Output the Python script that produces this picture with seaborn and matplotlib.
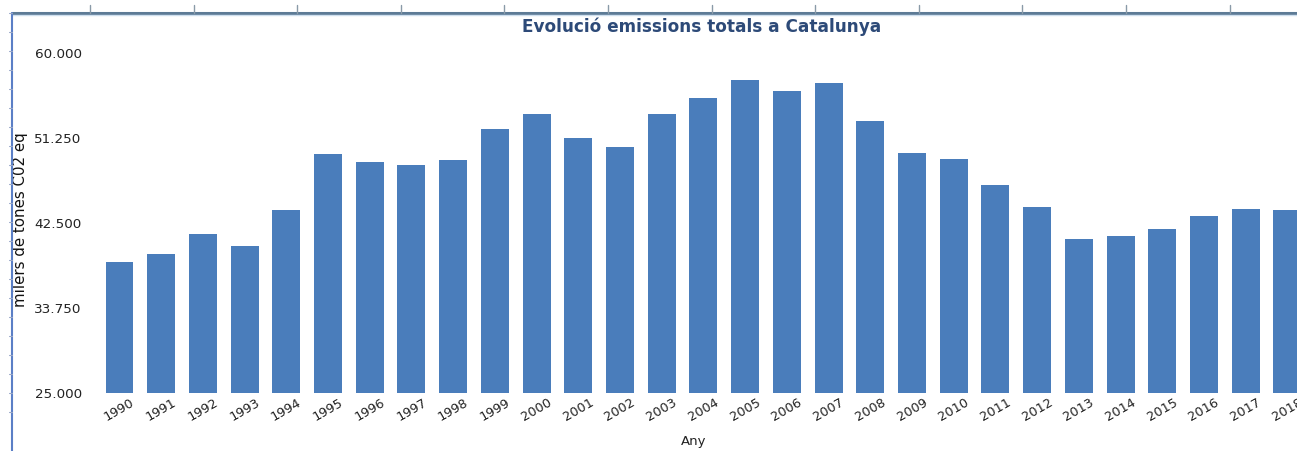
import matplotlib
matplotlib.use("Agg")
import matplotlib.pyplot as plt
from matplotlib.lines import Line2D
import seaborn as sns
import pandas as pd

# Emissions totals a Catalunya (milers de tones CO2 eq)
years = [str(y) for y in range(1990, 2019)]
emissions = [38500, 39300, 41400, 40100, 43800, 49600, 48800, 48500, 49000,
             52200, 53700, 51300, 50300, 53700, 55400, 57200, 56100, 56900,
             53000, 49700, 49100, 46400, 44100, 40900, 41200, 41900, 43200,
             43900, 43800]
y_ticks = [25000, 33750, 42500, 51250, 60000]
y_tick_labels = ["25.000", "33.750", "42.500", "51.250", "60.000"]

title = "Evolució emissions totals a Catalunya"
x_label = "Any"
y_label = "milers de tones C02 eq"

sns.set_theme(style="white")
plt.rcParams["font.family"] = ["DejaVu Sans"]

W, H = 1297, 451
fig = plt.figure(figsize=(W / 100, H / 100), dpi=100)
fig.patch.set_facecolor("white")

left_px, right_px, bottom_px, top_px = 90, 1297, 393, 53
ax = fig.add_axes([left_px / W, 1 - bottom_px / H,
                   (right_px - left_px) / W, (bottom_px - top_px) / H])

df = pd.DataFrame({"Any": years, "Emissions": emissions})
sns.barplot(data=df, x="Any", y="Emissions", color="#4a7dbb", saturation=1,
            width=0.67, ax=ax, edgecolor="none")

ax.set_ylim(y_ticks[0], y_ticks[-1])
ax.set_xlim(-0.707, 28.23)
ax.set_yticks(y_ticks)
ax.set_yticklabels(y_tick_labels, fontsize=9.7, color="#222222")
ax.tick_params(axis="y", length=0, pad=6)
ax.tick_params(axis="x", length=0, pad=2)
for lbl in ax.get_xticklabels():
    lbl.set_rotation(30)
    lbl.set_ha("center")
    lbl.set_fontsize(9.3)
    lbl.set_color("#222222")
for s in ax.spines.values():
    s.set_visible(False)
ax.grid(False)

ax.set_xlabel(x_label, fontsize=9.5, color="#222222", labelpad=8)
ax.set_ylabel(y_label, fontsize=10.8, color="#111111")
ax.yaxis.set_label_coords(-62 / (right_px - left_px), 0.51)

fig.text(702 / W, 1 - 27 / H, title, ha="center", va="center",
         fontsize=12.2, fontweight="bold", color="#2d4a78")

# frame of the surrounding sheet: top rule with ruler ticks and left rule
top_y = 1 - 13 / H
fig.add_artist(Line2D([12 / W, 1], [top_y, top_y], transform=fig.transFigure,
                      color="#5d7b96", lw=2.2))
fig.add_artist(Line2D([12 / W, 1], [top_y - 2 / H, top_y - 2 / H],
                      transform=fig.transFigure, color="#cfe0ef", lw=1))
for k in range(12):
    px = 90 + 103.6 * k
    fig.add_artist(Line2D([px / W, px / W], [1 - 5 / H, top_y],
                          transform=fig.transFigure, color="#8a9aa8", lw=1))
fig.add_artist(Line2D([12 / W, 12 / W], [0, top_y], transform=fig.transFigure,
                      color="#5b7fc6", lw=1.5))
for k in range(22):
    py = 13 + 19 * k
    fig.add_artist(Line2D([9 / W, 12 / W], [1 - py / H, 1 - py / H],
                          transform=fig.transFigure, color="#9aa8c8", lw=0.8))

fig.savefig("out.png", dpi=100, facecolor="white")
